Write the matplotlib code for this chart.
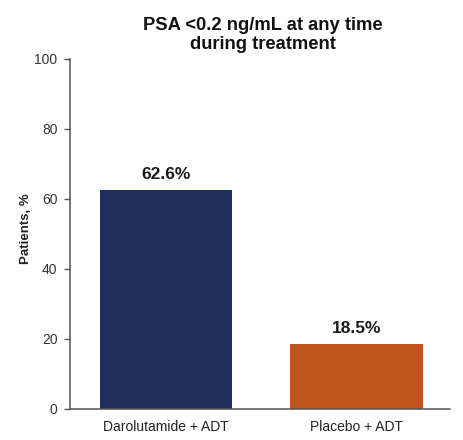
import matplotlib
matplotlib.use("Agg")
import matplotlib.pyplot as plt

plt.rcParams['font.family'] = ['Liberation Sans', 'DejaVu Sans']

groups = ["Darolutamide + ADT", "Placebo + ADT"]
values = [62.6, 18.5]
colors = ["#1f305c", "#c0541a"]

fig = plt.figure(figsize=(4.63, 4.40), dpi=100)
ax = fig.add_axes([0.151, 0.0705, 0.821, 0.7955])

x = list(range(len(groups)))
ax.bar(x, values, width=0.693, color=colors)

for xi, v in zip(x, values):
    ax.annotate(f"{v}%", (xi, v), xytext=(0, 6), textcoords="offset points",
                ha="center", va="bottom", fontsize=12.5, fontweight="bold", color="#1a1a1a")

ax.set_xlim(-0.504, 1.491)
ax.set_ylim(0, 100)
ax.set_yticks(range(0, 101, 20))
ax.set_xticks(x)
ax.set_xticklabels(groups, fontsize=10, color="#222222")
ax.tick_params(axis="x", length=0, pad=8)
ax.tick_params(axis="y", length=4, width=1, color="#555555", labelsize=10,
               labelcolor="#333333", pad=5)

for side in ["top", "right"]:
    ax.spines[side].set_visible(False)
for side in ["left", "bottom"]:
    ax.spines[side].set_color("#555555")
    ax.spines[side].set_linewidth(1.1)

ax.set_ylabel("Patients, %", fontsize=9.5, fontweight="bold", color="#222222")
ax.yaxis.set_label_coords(-0.1, 0.515)

fig.text(0.568, 0.92, "PSA <0.2 ng/mL at any time\nduring treatment", ha="center", va="center",
         fontsize=13.2, fontweight="bold", color="#111111", linespacing=1.12)

fig.savefig("out.png", dpi=100)
